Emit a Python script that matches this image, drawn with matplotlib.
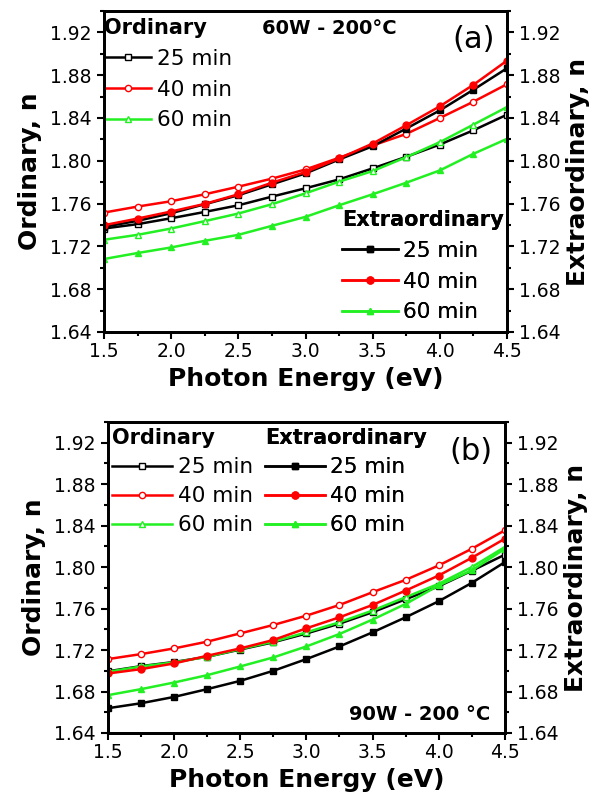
import numpy as np
import matplotlib
matplotlib.use("Agg")
import matplotlib.pyplot as plt
from matplotlib.lines import Line2D

plt.rcParams['font.family'] = ['DejaVu Sans']

# photon energy (eV), one point every 0.25 eV
energy = [1.5, 1.75, 2.0, 2.25, 2.5, 2.75, 3.0, 3.25, 3.5, 3.75, 4.0, 4.25, 4.5]

# panel (a) 60W - 200 C
a_ord_25 = [1.7367, 1.7408, 1.7463, 1.7522, 1.7584, 1.7665, 1.7743, 1.7826, 1.7929, 1.8037, 1.8152, 1.8285, 1.8431]
a_ord_40 = [1.7516, 1.7572, 1.7622, 1.7687, 1.7758, 1.7833, 1.7919, 1.8028, 1.8143, 1.8251, 1.8400, 1.8552, 1.8716]
a_ord_60 = [1.7262, 1.7308, 1.7367, 1.7436, 1.7507, 1.7594, 1.7696, 1.7805, 1.7904, 1.8034, 1.8174, 1.8338, 1.8502]
a_ext_25 = [1.7383, 1.7439, 1.7510, 1.7594, 1.7678, 1.7780, 1.7882, 1.8012, 1.8136, 1.8301, 1.8471, 1.8664, 1.8865]
a_ext_40 = [1.7398, 1.7460, 1.7526, 1.7597, 1.7687, 1.7795, 1.7895, 1.8022, 1.8161, 1.8332, 1.8509, 1.8710, 1.8936]
a_ext_60 = [1.7082, 1.7138, 1.7190, 1.7252, 1.7308, 1.7392, 1.7476, 1.7584, 1.7687, 1.7795, 1.7910, 1.8065, 1.8205]

# panel (b) 90W - 200 C
b_ord_25 = [1.6995, 1.7045, 1.7085, 1.7135, 1.7205, 1.7275, 1.7360, 1.7455, 1.7565, 1.7690, 1.7815, 1.7965, 1.8120]
b_ord_40 = [1.7113, 1.7161, 1.7216, 1.7281, 1.7361, 1.7442, 1.7532, 1.7635, 1.7758, 1.7877, 1.8016, 1.8177, 1.8355]
b_ord_60 = [1.6990, 1.7042, 1.7081, 1.7135, 1.7210, 1.7281, 1.7371, 1.7468, 1.7581, 1.7710, 1.7839, 1.8000, 1.8194]
b_ext_25 = [1.6639, 1.6687, 1.6748, 1.6823, 1.6903, 1.7000, 1.7113, 1.7235, 1.7371, 1.7516, 1.7671, 1.7848, 1.8048]
b_ext_40 = [1.6974, 1.7016, 1.7071, 1.7145, 1.7216, 1.7297, 1.7410, 1.7516, 1.7635, 1.7774, 1.7919, 1.8090, 1.8274]
b_ext_60 = [1.6765, 1.6823, 1.6887, 1.6958, 1.7042, 1.7129, 1.7235, 1.7355, 1.7494, 1.7645, 1.7823, 1.7968, 1.8177]

times = ['25 min', '40 min', '60 min']
colors = ['black', 'red', '#22f022']
markers = ['s', 'o', '^']
yticks = [1.64, 1.68, 1.72, 1.76, 1.80, 1.84, 1.88, 1.92]
xticks = [1.5, 2.0, 2.5, 3.0, 3.5, 4.0, 4.5]


def style_axes(ax):
    ax.set_xlim(1.5, 4.5)
    ax.set_ylim(1.64, 1.94)
    ax.set_xticks(xticks)
    ax.set_xticks(np.arange(1.75, 4.5, 0.5), minor=True)
    ax.set_yticks(yticks)
    ax.set_yticks(np.arange(1.66, 1.94, 0.04), minor=True)
    ax.set_yticklabels(['%.2f' % t for t in yticks])
    ax.tick_params(which='major', direction='out', length=5, width=1.5, labelsize=13.5)
    ax.tick_params(which='minor', direction='out', length=3, width=1.5)
    ax.tick_params(axis='x', pad=2.5)
    ax.tick_params(axis='y', pad=4)
    for s in ax.spines.values():
        s.set_linewidth(2)
    ax.set_xlabel('Photon Energy (eV)', fontsize=18, fontweight='bold', labelpad=4)
    ax.set_ylabel('Ordinary, n', fontsize=18, fontweight='bold', labelpad=6)
    tw = ax.twinx()
    tw.set_ylim(1.64, 1.94)
    tw.set_yticks(yticks)
    tw.set_yticks(np.arange(1.66, 1.94, 0.04), minor=True)
    tw.set_yticklabels(['%.2f' % t for t in yticks])
    tw.tick_params(which='major', direction='out', length=5, width=1.5, labelsize=13.5, pad=3.5)
    tw.tick_params(which='minor', direction='out', length=3, width=1.5)
    tw.set_ylabel('Extraordinary, n', fontsize=18, fontweight='bold', labelpad=4)
    for s in tw.spines.values():
        s.set_linewidth(2)
    return tw


def draw(ax, ords, exts):
    for vals, c, m in zip(ords, colors, markers):
        ax.plot(energy, vals, color=c, marker=m, markersize=4.5, mfc='white',
                mec=c, mew=1, lw=1.8)
    for vals, c, m in zip(exts, colors, markers):
        ax.plot(energy, vals, color=c, marker=m, markersize=5, mfc=c,
                mec=c, lw=1.8)


def legend(ax, handles, title, loc, anchor, hl, sp):
    lg = ax.legend(handles, times, title=title, loc=loc, bbox_to_anchor=anchor,
                   frameon=False, fontsize=15.5, title_fontsize=15, handlelength=hl,
                   handletextpad=0.25, labelspacing=sp, borderaxespad=0,
                   borderpad=0, alignment='left')
    lg.get_title().set_fontweight('bold')
    ax.add_artist(lg)
    return lg


fig = plt.figure(figsize=(5.95, 7.95), dpi=100)

h_o = [Line2D([], [], color=c, marker=m, markersize=4.5, mfc='white', mec=c, lw=1.8)
       for c, m in zip(colors, markers)]
h_e = [Line2D([], [], color=c, marker=m, markersize=5, mfc=c, mec=c, lw=1.8)
       for c, m in zip(colors, markers)]

# panel (a)
ax1 = fig.add_axes([0.1748, 0.5824, 0.6773, 0.4038])
draw(ax1, [a_ord_25, a_ord_40, a_ord_60], [a_ext_25, a_ext_40, a_ext_60])
style_axes(ax1)
legend(ax1, h_o, 'Ordinary', 'upper left', (0.0, 0.978), 2.2, 0.5)
legend(ax1, h_e, 'Extraordinary', 'lower left', (0.59, 0.03), 2.6, 0.5)
ax1.text(0.392, 0.944, '60W - 200°C', transform=ax1.transAxes,
         fontsize=14, fontweight='bold', va='center', ha='left')
ax1.text(0.97, 0.91, '(a)', transform=ax1.transAxes, fontsize=22, va='center', ha='right')

# panel (b)
ax2 = fig.add_axes([0.1815, 0.0780, 0.667, 0.3912])
draw(ax2, [b_ord_25, b_ord_40, b_ord_60], [b_ext_25, b_ext_40, b_ext_60])
style_axes(ax2)
legend(ax2, h_o, 'Ordinary', 'upper left', (0.01, 0.98), 2.8, 0.42)
legend(ax2, h_e, 'Extraordinary', 'upper left', (0.395, 0.98), 2.8, 0.42)
ax2.text(0.962, 0.06, '90W - 200 °C', transform=ax2.transAxes,
         fontsize=14, fontweight='bold', va='center', ha='right')
ax2.text(0.97, 0.905, '(b)', transform=ax2.transAxes, fontsize=22, va='center', ha='right')

fig.savefig('out.png', dpi=100)
